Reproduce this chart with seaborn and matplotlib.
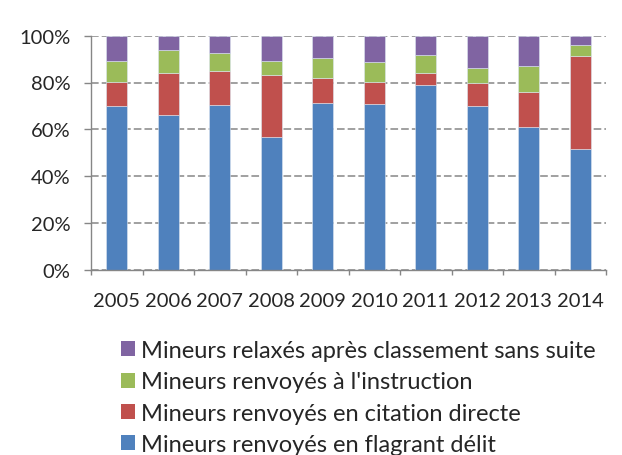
import numpy as np
import pandas as pd
import seaborn as sns
import matplotlib.pyplot as plt
from matplotlib.patches import Patch

# values (share of each outcome, %)
years = ['2005', '2006', '2007', '2008', '2009', '2010', '2011', '2012', '2013', '2014']
flagrant = [70.0, 66.2, 70.3, 56.8, 71.1, 70.7, 78.8, 69.8, 60.8, 51.4]
citation = [10.3, 18.0, 14.5, 26.4, 10.7, 9.6, 5.1, 10.0, 15.3, 40.1]
instruction = [8.9, 9.7, 7.7, 6.0, 8.8, 8.3, 7.8, 6.3, 10.8, 4.5]
relaxes = [10.8, 6.1, 7.5, 10.8, 9.4, 11.4, 8.3, 13.9, 13.1, 4.0]

labels = ['Mineurs renvoyés en flagrant délit',
          'Mineurs renvoyés en citation directe',
          "Mineurs renvoyés à l'instruction",
          'Mineurs relaxés après classement sans suite']
colors = ['#4F81BD', '#C0504D', '#9BBB59', '#8064A2']

sns.set_style('white')
plt.rcParams['font.family'] = ['Lato', 'DejaVu Sans']

fig = plt.figure(figsize=(6.22, 4.56), dpi=100)
ax = fig.add_axes([91 / 622, 1 - 270.7 / 456, 515 / 622, 234 / 456])
ax.set_axisbelow(True)

bottom = np.zeros(len(years))
for vals, col in zip([flagrant, citation, instruction, relaxes], colors):
    df = pd.DataFrame({'year': years, 'val': vals})
    sns.barplot(data=df, x='year', y='val', bottom=bottom, color=col,
                width=0.4, errorbar=None, saturation=1,
                edgecolor='#DCE6F2', linewidth=0.4, ax=ax, zorder=2)
    bottom = bottom + np.array(vals)

ax.set_ylim(0, 100)
ax.set_xlim(-0.5, len(years) - 0.5)
ax.set_yticks(range(0, 101, 20))
ax.set_yticklabels([f'{v}%' for v in range(0, 101, 20)])
ax.set_xlabel('')
ax.set_ylabel('')

# dashed grid behind the bars
ax.yaxis.grid(True, color='#868686', linestyle=(0, (5, 2)), linewidth=1.1)

for s in ['top', 'right']:
    ax.spines[s].set_visible(False)
for s in ['left', 'bottom']:
    ax.spines[s].set_color('#868686')
    ax.spines[s].set_linewidth(1.0)
    ax.spines[s].set_zorder(3)

ax.tick_params(axis='y', length=5, width=1, color='#868686', direction='out',
               left=True, pad=10, labelsize=14.5)
ax.set_xticks(np.arange(-0.5, len(years), 1), minor=True)
ax.tick_params(axis='x', which='minor', length=3.5, width=1, color='#868686',
               direction='out', bottom=True)
ax.tick_params(axis='x', which='major', length=0, pad=16, labelsize=14.5)

handles = [Patch(facecolor=c, edgecolor='none') for c in colors][::-1]
fig.legend(handles, labels[::-1], loc='upper left', bbox_to_anchor=(121 / 622, 1 - 341 / 456),
           frameon=False, fontsize=17, handlelength=0.6, handleheight=0.6,
           handletextpad=0.25, labelspacing=0.44, borderaxespad=0, borderpad=0)

fig.savefig('out.png', dpi=100)
